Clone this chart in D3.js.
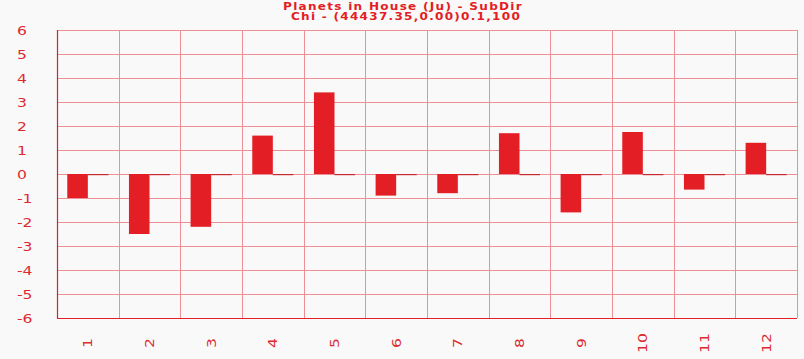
<!DOCTYPE html>
<html><head><meta charset="utf-8">
<script src="https://cdn.jsdelivr.net/npm/d3@7/dist/d3.min.js"></script>
<style>body{margin:0;background:#f9f9f9;}svg{display:block;}</style>
</head><body>
<script>
const categories = ["1","2","3","4","5","6","7","8","9","10","11","12"];
const seriesA = [-1.0,-2.5,-2.2,1.6,3.4,-0.9,-0.8,1.7,-1.6,1.75,-0.65,1.3];
const seriesB = [0,0,0,0,0,0,0,0,0,0,0,0];
const yTicks = [6,5,4,3,2,1,0,-1,-2,-3,-4,-5,-6];
const titleLines = ["Planets in House (Ju) - SubDir","Chi - (44437.35,0.00)0.1,100"];

const W=804,H=359;
const svg=d3.select("body").append("svg").attr("width",W).attr("height",H);
svg.append("rect").attr("width",W).attr("height",H).attr("fill","#f9f9f9");
const L=57,R=797,T=30,B=318;
const x=d3.scaleBand().domain(categories).range([L,R]).paddingInner(0).paddingOuter(0);
const xs=d3.scaleBand().domain(["a","b"]).range([0,x.bandwidth()]).paddingOuter(0.5).paddingInner(0);
const y=d3.scaleLinear().domain([-6,6]).range([B,T]);
const red="#e31e24", grid="#ec8f96", lab="#dc2a2f";

// grid
svg.append("g").selectAll("line").data(yTicks).join("line")
 .attr("x1",L).attr("x2",R).attr("y1",d=>y(d)+0.5).attr("y2",d=>y(d)+0.5)
 .attr("stroke",grid).attr("stroke-width",1);
svg.append("g").selectAll("line").data(categories.slice(1).concat(["end"])).join("line")
 .attr("x1",(d,i)=>Math.round(L+(i+1)*x.bandwidth())+0.5).attr("x2",(d,i)=>Math.round(L+(i+1)*x.bandwidth())+0.5)
 .attr("y1",T).attr("y2",B).attr("stroke",grid).attr("stroke-width",1);

// bars
svg.append("g").selectAll("rect").data(seriesA).join("rect")
 .attr("x",(d,i)=>x(categories[i])+xs("a"))
 .attr("width",xs.bandwidth())
 .attr("y",d=>y(Math.max(0,d)))
 .attr("height",d=>Math.abs(y(d)-y(0)))
 .attr("fill",red);
svg.append("g").selectAll("rect").data(seriesB).join("rect")
 .attr("x",(d,i)=>x(categories[i])+xs("b"))
 .attr("width",xs.bandwidth())
 .attr("y",d=>y(Math.max(0,d)))
 .attr("height",d=>Math.max(1.2,Math.abs(y(d)-y(0))))
 .attr("fill","#c8282e");

// axes lines
svg.append("line").attr("x1",L+0.5).attr("x2",L+0.5).attr("y1",T).attr("y2",B+0.5).attr("stroke",red).attr("stroke-width",1.2);
svg.append("line").attr("x1",L).attr("x2",R).attr("y1",B+0.5).attr("y2",B+0.5).attr("stroke",red).attr("stroke-width",1.2);

// y labels
svg.append("g").selectAll("text").data(yTicks).join("text")
 .attr("transform",d=>`translate(17,${y(d)+4.5}) scale(1.3,1)`)
 .attr("font-family","DejaVu Sans").attr("font-size",12).attr("fill",lab)
 .text(d=>d);

// x labels
svg.append("g").selectAll("text").data(categories).join("text")
 .attr("transform",d=>`translate(${x(d)+x.bandwidth()/2+4.5},343) rotate(-90) scale(1.3,1)`)
 .attr("text-anchor","middle")
 .attr("font-family","DejaVu Sans").attr("font-size",12).attr("fill",lab)
 .text(d=>d);

// title
svg.append("g").selectAll("text").data(titleLines).join("text")
 .attr("transform",(d,i)=>`translate(${403+i*3},${9.5+i*10.5}) scale(1.15,1)`)
 .attr("text-anchor","middle").attr("font-family","DejaVu Sans").attr("font-weight","bold")
 .attr("letter-spacing",1.1)
 .attr("font-size",10.5).attr("fill",red).text(d=>d);
</script>
</body></html>
